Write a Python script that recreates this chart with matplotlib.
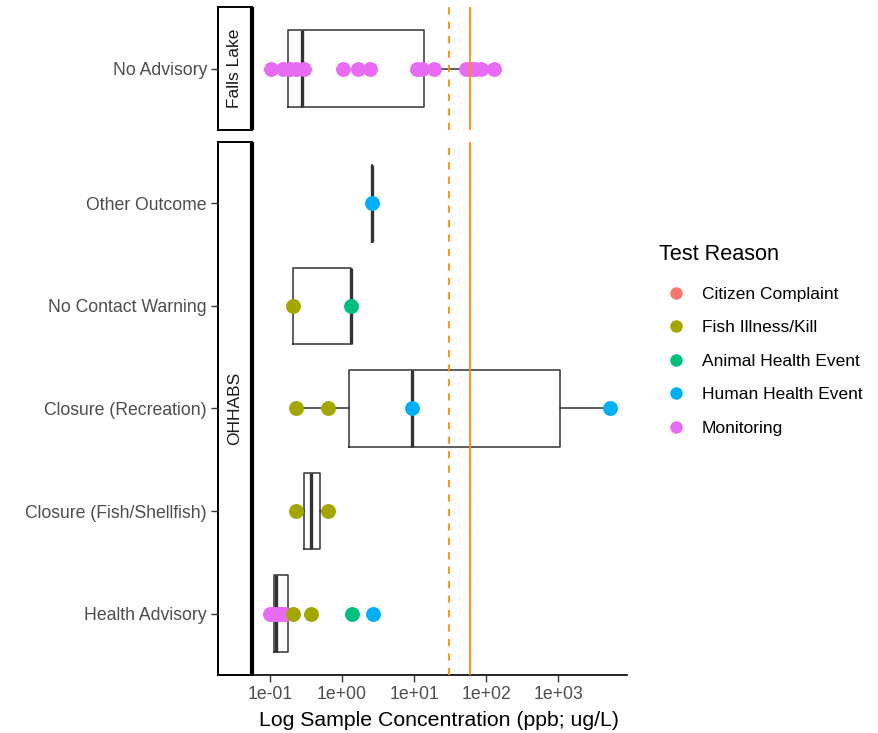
import numpy as np
import matplotlib
matplotlib.use("Agg")
import matplotlib.pyplot as plt
from matplotlib.lines import Line2D
from matplotlib.patches import Rectangle

plt.rcParams['font.family'] = ['Liberation Sans', 'DejaVu Sans']

# facets and their categories (bottom to top)
fl_cats = ["No Advisory"]
oh_cats = ["Health Advisory", "Closure (Fish/Shellfish)", "Closure (Recreation)",
           "No Contact Warning", "Other Outcome"]

reasons = ["Citizen Complaint", "Fish Illness/Kill", "Animal Health Event",
           "Human Health Event", "Monitoring"]
reason_colors = ["#F8766D", "#A3A500", "#00BF7D", "#00B0F6", "#E76BF3"]

# box statistics (ppb)
box_group = ["No Advisory", "Other Outcome", "No Contact Warning", "Closure (Recreation)",
             "Closure (Fish/Shellfish)", "Health Advisory"]
box_low = [0.10, 2.64, 0.21, 0.23, 0.23, 0.105]
box_q1 = [0.18, 2.64, 0.21, 1.25, 0.295, 0.115]
box_med = [0.28, 2.64, 1.33, 9.2, 0.375, 0.121]
box_q3 = [13.6, 2.64, 1.33, 1062, 0.50, 0.176]
box_high = [126, 2.64, 1.33, 5120, 0.63, 0.21]

# sample points
pt_group = (["No Advisory"] * 16
            + ["Other Outcome"]
            + ["No Contact Warning"] * 2
            + ["Closure (Recreation)"] * 4
            + ["Closure (Fish/Shellfish)"] * 2
            + ["Health Advisory"] * 10)
pt_value = [0.103, 0.15, 0.19, 0.23, 0.30, 1.02, 1.67, 2.43, 11.0, 13.0, 18.6, 53, 62, 70, 85, 126,
            2.64,
            0.21, 1.33,
            0.23, 0.63, 9.2, 5120,
            0.23, 0.63,
            0.100, 0.110, 0.120, 0.132, 0.145, 0.16, 0.21, 0.37, 1.36, 2.7]
pt_reason = (["Monitoring"] * 16
             + ["Human Health Event"]
             + ["Fish Illness/Kill", "Animal Health Event"]
             + ["Fish Illness/Kill", "Fish Illness/Kill", "Human Health Event", "Human Health Event"]
             + ["Fish Illness/Kill"] * 2
             + ["Monitoring"] * 6 + ["Fish Illness/Kill", "Fish Illness/Kill",
                                     "Animal Health Event", "Human Health Event"])

guide_dashed = 30
guide_solid = 60

W, H = 879, 733
fig = plt.figure(figsize=(W / 100, H / 100), dpi=100)


def rect(x0, y0, x1, y1):
    return [x0 / W, 1 - y1 / H, (x1 - x0) / W, (y1 - y0) / H]


panels = [("Falls Lake", fl_cats, (7, 130)), ("OHHABS", oh_cats, (142, 675))]
xlim = (10 ** -1.247, 10 ** 3.95)
col = dict(zip(reasons, reason_colors))

for i, (name, cats, (ytop, ybot)) in enumerate(panels):
    ax = fig.add_axes(rect(252, ytop, 627, ybot))
    sax = fig.add_axes(rect(218, ytop, 252, ybot), sharey=ax)
    ax.set_xscale("log")
    ax.set_xlim(*xlim)
    ax.set_ylim(0.4, len(cats) + 0.6)
    pos = {c: k + 1 for k, c in enumerate(cats)}

    stats = []
    positions = []
    for g, lo, q1, md, q3, hi in zip(box_group, box_low, box_q1, box_med, box_q3, box_high):
        if g in pos:
            stats.append(dict(whislo=lo, q1=q1, med=md, q3=q3, whishi=hi, fliers=[]))
            positions.append(pos[g])
    ax.bxp(stats, positions=positions, widths=0.75, orientation="horizontal",
           showcaps=False, showfliers=False,
           boxprops=dict(color="#333333", lw=1.1),
           whiskerprops=dict(color="#333333", lw=1.1),
           medianprops=dict(color="#333333", lw=2.4, solid_capstyle="butt"))

    for g, v, r in zip(pt_group, pt_value, pt_reason):
        if g in pos:
            ax.scatter(v, pos[g], s=115, color=col[r], zorder=5, linewidths=0)

    ax.axvline(guide_dashed, color="#FF8C00", lw=1.3, ls=(0, (4, 4)), zorder=6)
    ax.axvline(guide_solid, color="#FF8C00", lw=1.3, zorder=6)

    for sp in ["top", "right", "left"]:
        ax.spines[sp].set_visible(False)
    ax.tick_params(axis="y", left=False, labelleft=False)
    ax.set_facecolor("none")

    # strip
    for sp in sax.spines.values():
        sp.set_visible(False)
    sax.set_xlim(0, 1)
    sax.set_xticks([])
    sax.add_patch(Rectangle((0, 0), 1, 1, transform=sax.transAxes, fill=False,
                            edgecolor="black", lw=1.4, clip_on=False))
    sax.plot([1, 1], [0, 1], transform=sax.transAxes, color="black", lw=3, clip_on=False,
             solid_capstyle="butt")
    sax.text(0.5, 0.5, name, rotation=90, ha="center", va="center",
             transform=sax.transAxes, fontsize=12.5, color="#1A1A1A")
    sax.set_yticks(list(pos.values()))
    sax.set_yticklabels(list(pos.keys()), fontsize=12.7, color="#4D4D4D")
    sax.tick_params(axis="y", length=5, width=1, color="#333333", pad=3)

    if i == 0:
        ax.spines["bottom"].set_visible(False)
        ax.tick_params(axis="x", bottom=False, labelbottom=False, which="both")
    else:
        ax.spines["bottom"].set_linewidth(1.2)
        ax.set_xticks([1e-1, 1e0, 1e1, 1e2, 1e3])
        ax.set_xticklabels(["1e-01", "1e+00", "1e+01", "1e+02", "1e+03"],
                           fontsize=12.7, color="#4D4D4D")
        ax.tick_params(axis="x", which="minor", bottom=False)
        ax.tick_params(axis="x", length=5, width=1, color="#333333", pad=3)
        ax.set_xlabel("Log Sample Concentration (ppb; ug/L)", fontsize=15.3, labelpad=6)
        sax.spines["bottom"].set_visible(True)
        sax.spines["bottom"].set_linewidth(1.2)

fig.text(659 / W, 1 - 254 / H, "Test Reason", fontsize=15.6, ha="left", va="center")
handles = [Line2D([], [], ls="", marker="o", markersize=9, color=c, markeredgewidth=0)
           for c in reason_colors]
leg = fig.legend(handles, reasons, loc="upper left", bbox_to_anchor=(647 / W, 1 - 271 / H),
                 frameon=False, fontsize=12.5, labelspacing=1.06,
                 handletextpad=0.75, handlelength=1.5)

fig.savefig("out.png", dpi=100)
